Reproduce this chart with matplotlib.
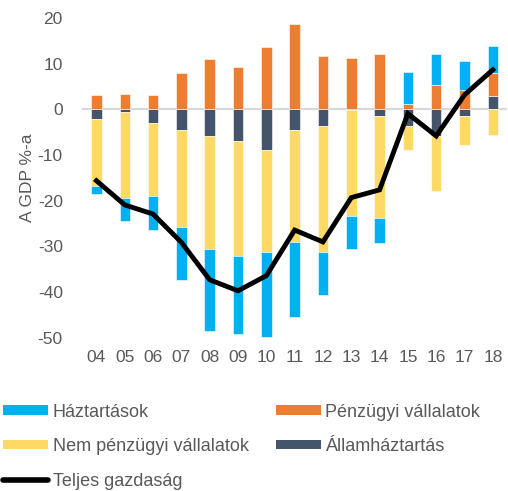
import matplotlib
matplotlib.use("Agg")
import matplotlib.pyplot as plt
import numpy as np
from matplotlib.patches import Patch
from matplotlib.lines import Line2D

plt.rcParams['font.family'] = ['Liberation Sans', 'DejaVu Sans']
plt.rcParams['axes.unicode_minus'] = False

years = ["04", "05", "06", "07", "08", "09", "10", "11", "12", "13", "14", "15", "16", "17", "18"]
haztartasok = [-1.8, -5.2, -7.4, -11.6, -17.8, -17.2, -18.6, -16.4, -9.3, -7.2, -5.5, 7.1, 6.8, 6.4, 6.0]
penzugyi = [3.1, 3.4, 3.1, 8.0, 11.0, 9.4, 13.6, 18.8, 11.7, 11.3, 12.1, 1.2, 5.3, 4.2, 4.9]
nem_penzugyi = [-14.6, -18.7, -16.1, -21.3, -24.8, -25.0, -22.5, -24.7, -27.7, -23.2, -22.4, -5.2, -12.0, -6.3, -5.5]
allam = [-2.1, -0.6, -2.9, -4.4, -5.8, -7.0, -8.8, -4.4, -3.6, -0.2, -1.4, -3.6, -5.8, -1.4, 3.0]
teljes = [-15.6, -20.9, -22.9, -29.1, -37.3, -39.7, -36.4, -26.4, -29.0, -19.3, -17.6, -0.9, -5.8, 3.2, 8.7]

C_BLUE = "#00B0F0"
C_ORANGE = "#ED7D31"
C_YELLOW = "#FFD966"
C_NAVY = "#44546A"
TXT = "#595959"

fig = plt.figure(figsize=(5.08, 4.91), dpi=100)
ax = fig.add_axes([0.162, 0.312, 0.836, 0.651])

x = np.arange(len(years))
w = 0.37
pos_bottom = np.zeros(len(years))
neg_bottom = np.zeros(len(years))
# stacking order: Államháztartás, Pénzügyi / Nem pénzügyi, Háztartások
for vals, col in [(allam, C_NAVY), (penzugyi, C_ORANGE), (nem_penzugyi, C_YELLOW), (haztartasok, C_BLUE)]:
    v = np.array(vals, dtype=float)
    bottoms = np.where(v >= 0, pos_bottom, neg_bottom)
    ax.bar(x, v, w, bottom=bottoms, color=col, edgecolor="white", linewidth=0.4, zorder=3)
    pos_bottom = np.where(v >= 0, pos_bottom + v, pos_bottom)
    neg_bottom = np.where(v < 0, neg_bottom + v, neg_bottom)

ax.axhline(0, color="#D9D9D9", lw=1.6, zorder=2)
ax.plot(x, teljes, color="black", lw=3.5, zorder=5, solid_joinstyle="miter")

ax.set_xlim(-0.5, len(years) - 0.5)
ax.set_ylim(-50, 20)
ax.set_yticks(np.arange(-50, 21, 10))
ax.set_xticks(x)
ax.set_xticklabels(years)
for s in ax.spines.values():
    s.set_visible(False)
ax.tick_params(axis="both", length=0, labelsize=12.5, colors=TXT)
ax.tick_params(axis="y", pad=14)
ax.tick_params(axis="x", pad=9)
ax.set_ylabel("A GDP %-a", fontsize=12.5, color=TXT, labelpad=2)

# legend
h_blue = Patch(facecolor=C_BLUE)
h_yellow = Patch(facecolor=C_YELLOW)
h_orange = Patch(facecolor=C_ORANGE)
h_navy = Patch(facecolor=C_NAVY)
h_line = Line2D([0], [0], color="black", lw=4, solid_capstyle="round")

common = dict(frameon=False, fontsize=13, handlelength=2.49, handleheight=0.44,
              handletextpad=0.25, labelspacing=0.97, borderaxespad=0, borderpad=0,
              labelcolor=TXT)
leg1 = fig.legend([h_blue, h_yellow, h_line], ["Háztartások", "Nem pénzügyi vállalatok", "Teljes gazdaság"],
                  loc="upper left", bbox_to_anchor=(0.006, 0.178), **common)
leg2 = fig.legend([h_orange, h_navy], ["Pénzügyi vállalatok", "Államháztartás"],
                  loc="upper left", bbox_to_anchor=(0.543, 0.178), **common)

fig.savefig("out.png", dpi=100)
